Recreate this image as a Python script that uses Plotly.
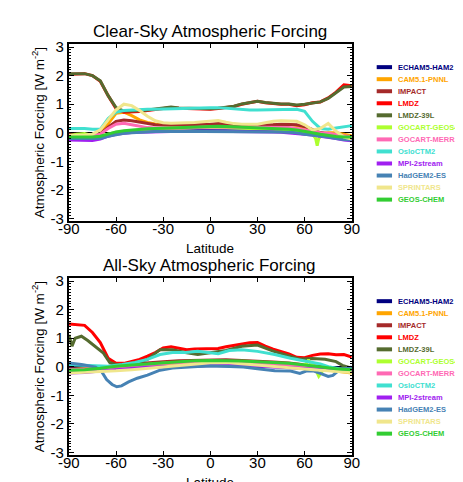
import plotly.graph_objects as go

W, H = 463, 482

MODELS = ["ECHAM5-HAM2", "CAM5.1-PNNL", "IMPACT", "LMDZ", "LMDZ-39L", "GOCART-GEOS4",
          "GOCART-MERRA", "OsloCTM2", "MPI-2stream", "HadGEM2-ES", "SPRINTARS", "GEOS-CHEM"]
COLORS = ["#000080", "#FFA500", "#A52A2A", "#FF0000", "#556B2F", "#ADFF2F",
          "#FF69B4", "#40E0D0", "#A020F0", "#4682B4", "#F0E68C", "#32CD32"]

# latitude grids
LAT5 = [-90, -85, -80, -75, -70, -65, -60, -55, -50, -45, -40, -35, -30, -25, -20, -15, -10, -5,
        0, 5, 10, 15, 20, 25, 30, 35, 40, 45, 50, 55, 60, 65, 70, 75, 80, 85, 90]
LAT10 = [-90, -80, -70, -60, -50, -40, -30, -20, -10, 0, 10, 20, 30, 40, 50, 60, 70, 80, 90]

# ---------------- Clear-sky (5 deg grid unless noted) ----------------
cs_echam = [-0.2, -0.2, -0.2, -0.2, -0.18, -0.1, -0.02, 0.02, 0.04, 0.05, 0.05, 0.06, 0.06, 0.06, 0.06, 0.07, 0.07, 0.07,
            0.07, 0.07, 0.07, 0.06, 0.06, 0.06, 0.06, 0.06, 0.05, 0.05, 0.04, 0.03, 0.0, -0.05, 0.0, -0.03, -0.1, -0.15, -0.15]
cs_cam = [-0.1, -0.1, -0.1, -0.12, -0.05, 0.3, 0.68, 0.72, 0.6, 0.45, 0.36, 0.31, 0.28, 0.27, 0.27, 0.27, 0.27, 0.28,
          0.28, 0.28, 0.28, 0.27, 0.25, 0.25, 0.25, 0.26, 0.27, 0.29, 0.3, 0.25, 0.18, 0.05, -0.02, 0.0, 0.0, -0.05, -0.1]
cs_impact = [-0.05, -0.05, -0.08, -0.1, -0.05, 0.2, 0.4, 0.45, 0.42, 0.38, 0.32, 0.28, 0.27, 0.26, 0.27, 0.28, 0.28, 0.3,
             0.3, 0.32, 0.3, 0.28, 0.27, 0.26, 0.26, 0.26, 0.28, 0.3, 0.3, 0.28, 0.22, 0.1, 0.0, -0.05, -0.1, -0.15, -0.2]
cs_lmdz = [2.05, 2.05, 2.07, 2.0, 1.8, 1.3, 0.85, 0.72, 0.72, 0.74, 0.78, 0.82, 0.85, 0.88, 0.86, 0.85, 0.84, 0.82,
           0.82, 0.85, 0.88, 0.92, 1.0, 1.05, 1.1, 1.05, 1.02, 1.0, 1.0, 0.95, 0.98, 1.05, 1.08, 1.22, 1.42, 1.68, 1.65]
cs_lmdz39 = [2.07, 2.06, 2.07, 2.0, 1.82, 1.3, 0.88, 0.76, 0.76, 0.77, 0.8, 0.84, 0.87, 0.9, 0.87, 0.86, 0.85, 0.84,
             0.84, 0.86, 0.89, 0.93, 1.01, 1.06, 1.1, 1.06, 1.03, 1.01, 1.01, 0.97, 1.0, 1.05, 1.08, 1.2, 1.4, 1.6, 1.62]
LAT_GEOS4_CS = [-90, -85, -80, -75, -70, -65, -60, -50, -40, -30, -20, -10, 0, 10, 20, 30, 40, 50, 60,
                65, 67, 68, 69, 71, 75, 80, 85, 90]
cs_geos4 = [-0.1, -0.05, -0.03, -0.1, -0.12, -0.05, 0.02, 0.08, 0.12, 0.14, 0.16, 0.18, 0.2, 0.18, 0.16, 0.14, 0.12, 0.1, 0.02,
            -0.05, -0.2, -0.45, -0.2, -0.08, -0.1, -0.15, -0.18, -0.2]
cs_merra = [-0.1, -0.1, -0.1, -0.12, -0.05, 0.15, 0.3, 0.33, 0.28, 0.22, 0.18, 0.17, 0.16, 0.16, 0.17, 0.18, 0.2, 0.21,
            0.22, 0.21, 0.2, 0.2, 0.2, 0.2, 0.2, 0.2, 0.2, 0.19, 0.18, 0.15, 0.1, 0.03, 0.0, -0.02, -0.05, -0.1, -0.15]
cs_oslo = [0.15, 0.15, 0.15, 0.12, 0.12, 0.5, 0.72, 0.78, 0.8, 0.82, 0.82, 0.82, 0.83, 0.85, 0.85, 0.86, 0.87, 0.88,
           0.88, 0.88, 0.86, 0.83, 0.8, 0.8, 0.8, 0.8, 0.8, 0.82, 0.82, 0.82, 0.75, 0.4, 0.15, 0.12, 0.17, 0.22, 0.25]
cs_mpi = [-0.25, -0.25, -0.25, -0.27, -0.22, -0.12, -0.05, -0.01, 0.01, 0.02, 0.03, 0.03, 0.04, 0.04, 0.04, 0.05, 0.05, 0.05,
          0.05, 0.05, 0.05, 0.05, 0.04, 0.04, 0.04, 0.03, 0.03, 0.02, 0.0, -0.02, -0.05, -0.08, -0.12, -0.15, -0.2, -0.25, -0.28]
cs_hadgem = [-0.2, -0.2, -0.2, -0.22, -0.2, -0.12, -0.06, -0.02, 0.0, 0.02, 0.03, 0.04, 0.05, 0.05, 0.05, 0.05, 0.05, 0.05,
             0.05, 0.05, 0.05, 0.05, 0.05, 0.05, 0.05, 0.04, 0.04, 0.03, 0.02, 0.0, -0.05, -0.08, -0.12, -0.15, -0.2, -0.24, -0.25]
cs_sprintars = [-0.1, -0.1, -0.08, -0.05, 0.1, 0.45, 0.8, 1.0, 0.95, 0.78, 0.58, 0.42, 0.35, 0.33, 0.33, 0.35, 0.36, 0.38,
                0.4, 0.43, 0.37, 0.32, 0.3, 0.3, 0.3, 0.35, 0.4, 0.42, 0.42, 0.4, 0.28, 0.1, 0.15, 0.33, 0.05, -0.15, -0.22]
cs_geoschem = [-0.15, -0.15, -0.15, -0.15, -0.12, -0.05, 0.03, 0.07, 0.1, 0.12, 0.14, 0.15, 0.16, 0.17, 0.19, 0.2, 0.21, 0.22,
               0.23, 0.23, 0.22, 0.21, 0.2, 0.18, 0.17, 0.16, 0.15, 0.14, 0.12, 0.1, 0.06, 0.0, -0.05, -0.1, -0.13, -0.15, -0.15]

# ---------------- All-sky ----------------
as_echam = [-0.05, -0.04, -0.03, 0.0, 0.01, 0.02, 0.02, 0.03, 0.04, 0.04, 0.04, 0.03, 0.03, 0.02, 0.01, 0.0, -0.02, -0.03, -0.05]
as_cam = [-0.15, -0.12, -0.1, -0.03, 0.02, 0.06, 0.1, 0.14, 0.17, 0.18, 0.17, 0.14, 0.1, 0.07, 0.03, -0.02, -0.08, -0.15, -0.22]
as_impact = [-0.08, -0.06, -0.03, 0.05, 0.1, 0.14, 0.18, 0.21, 0.23, 0.25, 0.25, 0.22, 0.2, 0.17, 0.13, 0.07, 0.0, -0.07, -0.12]
as_lmdz = [1.5, 1.48, 1.45, 1.2, 0.85, 0.3, 0.12, 0.12, 0.18, 0.26, 0.37, 0.5, 0.66, 0.7, 0.65, 0.6, 0.62, 0.62,
           0.62, 0.64, 0.7, 0.74, 0.8, 0.84, 0.85, 0.72, 0.62, 0.54, 0.45, 0.33, 0.32, 0.4, 0.45, 0.46, 0.42, 0.43, 0.34]
LAT_LMDZ39_AS = [-90, -88, -86, -82, -78, -73, -68, -64, -60, -55, -48, -40, -32, -24, -16, -8, 0, 10, 20, 30,
                 40, 50, 57, 65, 73, 80, 84, 90]
as_lmdz39 = [1.12, 0.72, 1.0, 1.07, 0.92, 0.7, 0.48, 0.15, 0.07, 0.07, 0.13, 0.26, 0.6, 0.6, 0.5, 0.43, 0.5, 0.57, 0.72, 0.76,
             0.55, 0.38, 0.27, 0.29, 0.26, 0.18, 0.05, -0.05]
LAT_GEOS4_AS = [-90, -80, -70, -60, -50, -40, -30, -20, -10, 0, 10, 20, 30, 40, 50, 58, 61, 62.5, 64, 66, 67.5, 69, 72, 80, 90]
as_geos4 = [-0.1, -0.08, -0.05, 0.0, 0.05, 0.08, 0.12, 0.15, 0.17, 0.18, 0.17, 0.15, 0.12, 0.1, 0.07, 0.04, 0.1, 0.25, 0.1, 0.02,
            -0.15, -0.33, -0.1, -0.12, -0.15]
as_merra = [-0.1, -0.08, -0.06, 0.0, 0.04, 0.08, 0.12, 0.15, 0.17, 0.18, 0.18, 0.16, 0.13, 0.1, 0.07, 0.03, -0.03, -0.08, -0.12]
LAT_OSLO_AS = [-90, -80, -73, -65, -56, -48, -40, -32, -24, -16, -8, 0, 5, 12, 20, 30, 41, 51, 57, 64, 70, 76, 82, 90]
as_oslo = [0.07, 0.06, 0.04, 0.02, 0.08, 0.15, 0.26, 0.43, 0.5, 0.5, 0.54, 0.5, 0.46, 0.57, 0.6, 0.54, 0.43, 0.3, 0.24, 0.18,
           0.1, -0.01, -0.07, -0.09]
as_mpi = [-0.22, -0.2, -0.15, -0.1, -0.06, -0.02, 0.0, 0.02, 0.04, 0.06, 0.07, 0.05, 0.03, 0.0, -0.03, -0.06, -0.1, -0.14, -0.16]
LAT_HADGEM_AS = [-90, -82, -73, -69, -66, -62.5, -59.5, -56.5, -52, -46.5, -40, -32, -24, -16, 0, 8, 21, 30, 41, 51, 57,
                 61, 65.5, 70, 75, 78, 82, 90]
as_hadgem = [0.13, 0.08, -0.01, -0.18, -0.45, -0.62, -0.7, -0.67, -0.53, -0.4, -0.29, -0.12, -0.04, -0.02, 0.04, 0.02, -0.01,
             -0.07, -0.14, -0.15, -0.23, -0.15, -0.14, -0.23, -0.34, -0.3, -0.12, -0.01]
as_sprintars = [-0.22, -0.2, -0.18, -0.14, -0.1, -0.05, 0.0, 0.05, 0.1, 0.14, 0.15, 0.1, 0.05, 0.0, -0.05, -0.08, -0.12, -0.17, -0.2]
as_geoschem = [-0.12, -0.1, -0.05, 0.02, 0.06, 0.1, 0.14, 0.18, 0.21, 0.22, 0.22, 0.2, 0.18, 0.15, 0.12, 0.06, 0.0, -0.07, -0.1]

CLEAR = [(LAT5, cs_echam), (LAT5, cs_cam), (LAT5, cs_impact), (LAT5, cs_lmdz), (LAT5, cs_lmdz39),
         (LAT_GEOS4_CS, cs_geos4), (LAT5, cs_merra), (LAT5, cs_oslo), (LAT5, cs_mpi), (LAT5, cs_hadgem),
         (LAT5, cs_sprintars), (LAT5, cs_geoschem)]
ALL = [(LAT10, as_echam), (LAT10, as_cam), (LAT10, as_impact), (LAT5, as_lmdz), (LAT_LMDZ39_AS, as_lmdz39),
       (LAT_GEOS4_AS, as_geos4), (LAT10, as_merra), (LAT_OSLO_AS, as_oslo), (LAT10, as_mpi), (LAT_HADGEM_AS, as_hadgem),
       (LAT10, as_sprintars), (LAT10, as_geoschem)]

XTICKS = [-90, -60, -30, 0, 30, 60, 90]
YTICKS = [-3, -2, -1, 0, 1, 2, 3]
TITLES = ["Clear-Sky Atmospheric Forcing", "All-Sky Atmospheric Forcing"]

FONT = "Liberation Sans, Arial, sans-serif"


def px(x):
    return x / W


def py(y):
    return 1 - y / H


fig = go.Figure()

panels = [("x", "y", CLEAR), ("x2", "y2", ALL)]
for xa, ya, data in panels:
    for name, color, (lat, vals) in zip(MODELS, COLORS, data):
        fig.add_trace(go.Scatter(x=lat, y=vals, mode="lines", name=name, xaxis=xa, yaxis=ya,
                                 line=dict(color=color, width=3), showlegend=False))

axis_common = dict(showline=True, linewidth=2, linecolor="black", mirror="ticks", ticks="inside",
                   tickcolor="black", showgrid=False, tickfont=dict(family=FONT, size=15, color="black"))

offsets = [0, 240]
for i, off in enumerate(offsets):
    sfx = "" if i == 0 else "2"
    top, bot = 31 + off, 212 + off
    fig.update_layout(**{
        "xaxis" + sfx: dict(domain=[px(52), px(347)], anchor="y" + sfx, range=[-90, 90],
                            tickvals=XTICKS, ticktext=[str(v) for v in XTICKS], ticklen=4, tickwidth=1,
                            ticklabelstandoff=-7, zeroline=False, **axis_common),
        "yaxis" + sfx: dict(domain=[py(bot), py(top)], anchor="x" + sfx, range=[-3.08, 3.1],
                            tickvals=YTICKS, ticktext=[str(v) for v in YTICKS], ticklen=5, tickwidth=1,
                            minor=dict(dtick=0.1, ticklen=2, ticks="inside", tickcolor="black", tickwidth=1),
                            zeroline=True, zerolinecolor="black", zerolinewidth=1, **axis_common),
    })
    fig.add_annotation(text=TITLES[i], x=px(199), y=py(18 + off), xref="paper", yref="paper",
                       showarrow=False, font=dict(family=FONT, size=17, color="black"),
                       xanchor="center", yanchor="middle")
    fig.add_annotation(text="Latitude", x=px(199), y=py(240 + off), xref="paper", yref="paper",
                       showarrow=False, font=dict(family=FONT, size=13.5, color="black"),
                       xanchor="center", yanchor="middle")
    fig.add_annotation(text="Atmospheric Forcing [W m<sup>-2</sup>]", x=px(20), y=py(122 + off),
                       xref="paper", yref="paper", textangle=-90, showarrow=False,
                       font=dict(family=FONT, size=13.5, color="black"), xanchor="center", yanchor="middle")
    # legend
    y0 = 55 + off - 0.5
    step = 12.35
    for k, (name, color) in enumerate(zip(MODELS, COLORS)):
        yy = y0 + k * step
        fig.add_shape(type="line", xref="paper", yref="paper", x0=px(373), x1=px(389), y0=py(yy), y1=py(yy),
                      line=dict(color=color, width=4))
        fig.add_annotation(text="<b>" + name + "</b>", x=px(393), y=py(yy), xref="paper", yref="paper",
                           showarrow=False, xanchor="left", yanchor="middle",
                           font=dict(family=FONT, size=7.5, color=color))

fig.update_layout(width=W, height=H, margin=dict(l=0, r=0, t=0, b=0),
                  paper_bgcolor="white", plot_bgcolor="white", showlegend=False)

fig.write_html("out.html")
